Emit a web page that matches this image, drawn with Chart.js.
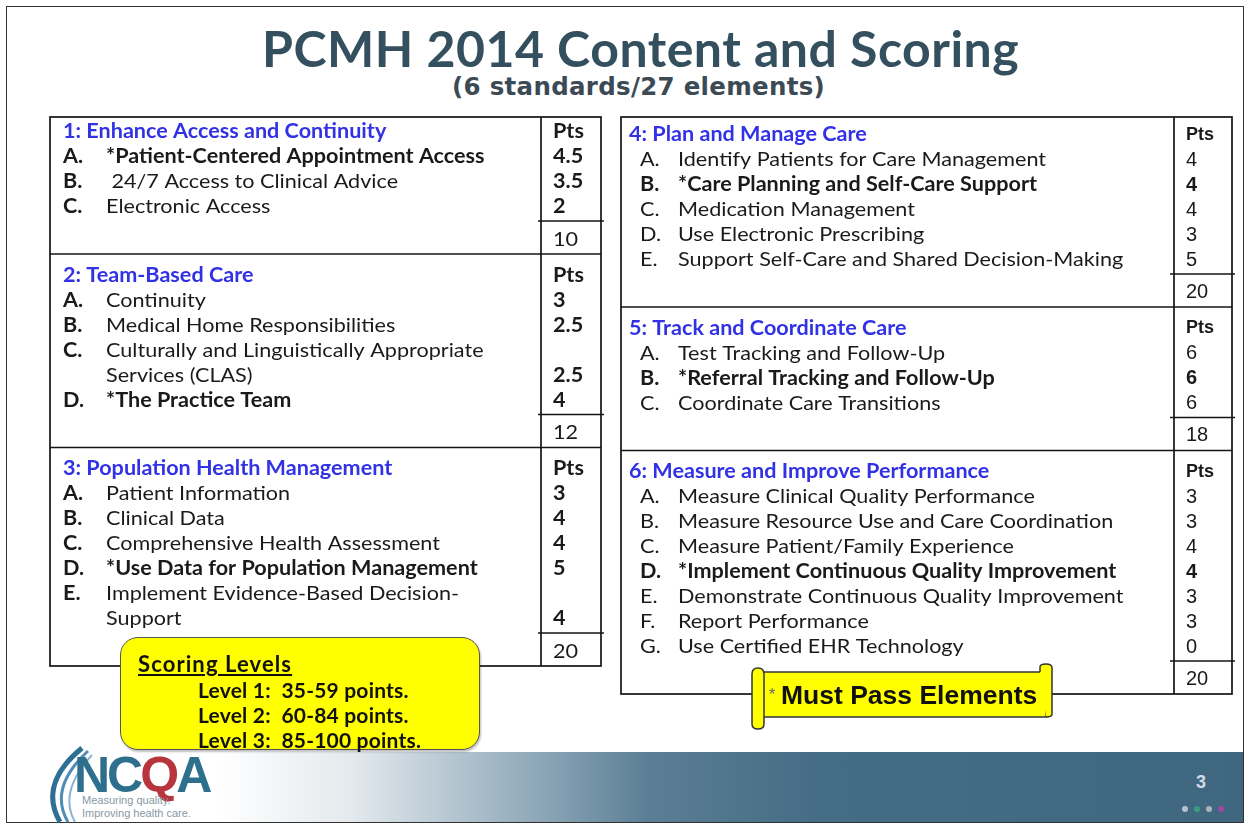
<!DOCTYPE html>
<html>
<head>
<meta charset="utf-8">
<script src="https://cdn.jsdelivr.net/npm/chart.js@4"></script>
<style>
  html, body { margin: 0; padding: 0; background: #fff; }
  #slide { position: relative; width: 1250px; height: 828px; overflow: hidden; background: #fff; }
  #frame { position: absolute; left: 6px; top: 6px; width: 1236px; height: 815px; border: 1.5px solid #333; }
  #title { position: absolute; left: 262px; top: 21px; margin: 0; font: bold 50px Lato, sans-serif; letter-spacing: 0.5px; color: #34505f; line-height: 54px; white-space: nowrap; }
  #subtitle { position: absolute; left: 452px; top: 72px; font: bold 24.5px "DejaVu Sans", sans-serif; letter-spacing: 0.3px; color: #3c4a55; line-height: 30px; white-space: nowrap; }
  canvas { position: absolute; }
  #left { left: 40px; top: 100px; }
  #right { left: 612px; top: 100px; }
  #footer { position: absolute; left: 7px; top: 752px; width: 1236px; height: 70px;
    background: linear-gradient(90deg, #fff 0%, #fff 17%, #e3e9ed 28%, #9fb5c3 40%, #5a7e95 52%, #446c84 66%, #3f6780 100%); }
  #pageNo { position: absolute; left: 1196px; top: 772px; font: bold 18px "Liberation Sans", sans-serif; color: #d3dce3; }
  #dots { position: absolute; left: 1180px; top: 804px; }
  #logo { position: absolute; left: 38px; top: 742px; }
  #scoring { position: absolute; left: 120px; top: 637px; width: 358px; height: 111px; background: #ffff00;
    border: 1.5px solid #555; border-radius: 18px; box-shadow: 1px 2px 2px rgba(0,0,0,0.25); }
  #scoring .head { position: absolute; left: 17px; top: 12px; font: bold 22px Lato, sans-serif; letter-spacing: 1.1px; text-decoration: underline; color: #111; }
  #scoring .lvl { position: absolute; left: 77px; font: bold 21px Lato, sans-serif; letter-spacing: 0.2px; color: #111; white-space: nowrap; }
  #mustpass { position: absolute; left: 748px; top: 660px; }
</style>
</head>
<body>
<div id="slide">
  <div id="frame"></div>
  <div id="footer"></div>
  <h1 id="title"></h1>
  <div id="subtitle"></div>
  <canvas id="left" width="575" height="580"></canvas>
  <canvas id="right" width="630" height="610"></canvas>
  <svg id="logo" width="200" height="84" viewBox="0 0 200 84">
    <path d="M 22 80 Q 0 42 44 6" fill="none" stroke="#2f6f95" stroke-width="5"/>
    <path d="M 30 80 Q 10 46 50 9" fill="none" stroke="#4f8db5" stroke-width="3"/>
    <path d="M 37 80 Q 20 50 54 13" fill="none" stroke="#8ab4cf" stroke-width="2"/>
    <text x="36" y="50" font-family="Liberation Sans, sans-serif" font-size="50" font-weight="bold" fill="#2e6f8e" letter-spacing="-3">NC<tspan fill="#b8353d">Q</tspan>A</text>
    <text x="44" y="62" font-family="Liberation Sans, sans-serif" font-size="11" fill="#8898a3">Measuring quality.</text>
    <text x="44" y="75" font-family="Liberation Sans, sans-serif" font-size="11" fill="#8898a3">Improving health care.</text>
  </svg>
  <div id="pageNo">3</div>
  <svg id="dots" width="50" height="10">
    <circle cx="5" cy="5" r="3" fill="#b7c2cc"/><circle cx="17" cy="5" r="3" fill="#3d9a7c"/>
    <circle cx="29" cy="5" r="3" fill="#aab2ba"/><circle cx="41" cy="5" r="3" fill="#9a4aa0"/>
  </svg>
  <div id="scoring"></div>
  <svg id="mustpass" width="310" height="70" viewBox="0 0 310 70">
    <path d="M 12 12 L 298 12 L 298 57 L 12 57 Z" fill="#ffff00" stroke="#333" stroke-width="1.5"/>
    <path d="M 292 12 L 292 7 Q 292 4 298 4 Q 304 4 304 8 L 304 54 Q 304 57 298 57" fill="#ffff00" stroke="#333" stroke-width="1.5"/>
    <path d="M 4 14 Q 4 8 10 8 Q 16 8 16 14 L 16 64 Q 16 69 10 69 Q 4 69 4 64 Z" fill="#ffff00" stroke="#333" stroke-width="1.5"/>
    <text x="21" y="40" font-family="Liberation Sans, sans-serif" font-size="16" fill="#666">*</text>
    <text x="33" y="44" font-family="Liberation Sans, sans-serif" font-size="26.5" font-weight="bold" fill="#111">Must Pass Elements</text>
  </svg>
</div>
<script>
const titleText = 'PCMH 2014 Content and Scoring';
const subtitleText = '(6 standards/27 elements)';

const standards = [
  '1: Enhance Access and Continuity',
  '2: Team-Based Care',
  '3: Population Health Management',
  '4: Plan and Manage Care',
  '5: Track and Coordinate Care',
  '6: Measure and Improve Performance'
];
const letters = ['A.', 'B.', 'C.', 'D.', 'E.', 'F.', 'G.'];

// '*' marks a must-pass element, '\n' is where the slide wraps the line
const elements1 = ['*Patient-Centered Appointment Access', ' 24/7 Access to Clinical Advice', 'Electronic Access'];
const points1 = [4.5, 3.5, 2];
const elements2 = ['Continuity', 'Medical Home Responsibilities', 'Culturally and Linguistically Appropriate\nServices (CLAS)', '*The Practice Team'];
const points2 = [3, 2.5, 2.5, 4];
const elements3 = ['Patient Information', 'Clinical Data', 'Comprehensive Health Assessment', '*Use Data for Population Management', 'Implement Evidence-Based Decision-\nSupport'];
const points3 = [3, 4, 4, 5, 4];
const elements4 = ['Identify Patients for Care Management', '*Care Planning and Self-Care Support', 'Medication Management', 'Use Electronic Prescribing', 'Support Self-Care and Shared Decision-Making'];
const points4 = [4, 4, 4, 3, 5];
const elements5 = ['Test Tracking and Follow-Up', '*Referral Tracking and Follow-Up', 'Coordinate Care Transitions'];
const points5 = [6, 6, 6];
const elements6 = ['Measure Clinical Quality Performance', 'Measure Resource Use and Care Coordination', 'Measure Patient/Family Experience', '*Implement Continuous Quality Improvement', 'Demonstrate Continuous Quality Improvement', 'Report Performance', 'Use Certified EHR Technology'];
const points6 = [3, 3, 4, 4, 3, 3, 0];
const totals = [10, 12, 20, 20, 18, 20];

const scoringTitle = 'Scoring Levels';
const scoringLevels = ['Level 1:  35-59 points.', 'Level 2:  60-84 points.', 'Level 3:  85-100 points.'];

document.getElementById('title').textContent = titleText;
document.getElementById('subtitle').textContent = subtitleText;
const box = document.getElementById('scoring');
box.innerHTML = '<div class="head">' + scoringTitle + '</div>' +
  scoringLevels.map((t, i) => '<div class="lvl" style="top:' + (39 + i * 25) + 'px">' + t.replace(/  /g, ' &nbsp;') + '</div>').join('');

const HEADER_BLUE = '#3131e6';
const INK = '#1a1a1a';

// y is measured in text lines; this lays out one column of standards
function buildSections(list) {
  let line = 0;
  return list.map(s => {
    let cur = line;
    const rows = s.elements.map((el, i) => {
      const parts = el.split('\n');
      const first = cur + 1;
      cur += parts.length;
      return { letter: letters[i], parts, first, last: cur, pts: s.points[i], must: el.startsWith('*') };
    });
    const sec = { title: s.title, header: line, rows, sep: cur + 0.64, total: cur + 1.29, bottom: cur + 1.96, totalValue: s.total };
    line = cur + 2.74;
    return sec;
  });
}

const tablePlugin = {
  id: 'scoreTable',
  afterDatasetsDraw(chart, args, opts) {
    const { ctx } = chart;
    const X = v => chart.scales.x.getPixelForValue(v);
    const Y = v => chart.scales.y.getPixelForValue(v);
    const g = opts.grid, f = opts.fonts, secs = opts.sections;
    const seg = (x1, y1, x2, y2) => { ctx.beginPath(); ctx.moveTo(x1, y1); ctx.lineTo(x2, y2); ctx.stroke(); };
    const text = (t, x, y, font, color) => {
      ctx.save();
      ctx.font = font.f;
      ctx.fillStyle = color || INK;
      ctx.translate(x, y + g.textShift);
      ctx.scale(font.sx || 1, 1);
      ctx.fillText(t, 0, 0);
      ctx.restore();
    };
    ctx.save();
    ctx.strokeStyle = '#151515';
    ctx.lineWidth = 1.7;
    ctx.textBaseline = 'middle';
    ctx.textAlign = 'left';
    const top = secs[0].header - g.topGap, bottom = secs[secs.length - 1].bottom;
    ctx.strokeRect(X(g.left), Y(top), X(g.right) - X(g.left), Y(bottom) - Y(top));
    seg(X(g.divider), Y(top), X(g.divider), Y(bottom));
    secs.forEach((s, i) => {
      if (i < secs.length - 1) seg(X(g.left), Y(s.bottom), X(g.right), Y(s.bottom));
      seg(X(g.sepLeft), Y(s.sep), X(g.sepRight), Y(s.sep));
      text(s.title, X(g.header), Y(s.header), f.header, HEADER_BLUE);
      text('Pts', X(g.pts), Y(s.header), f.ptsHead);
      s.rows.forEach(r => {
        text(r.letter, X(g.letter), Y(r.first), r.must ? f.letterBold : f.letter);
        r.parts.forEach((p, k) => text(p, X(g.name), Y(r.first + k), r.must ? f.bold : f.body));
      });
    });
    chart.data.datasets.forEach((ds, di) => {
      chart.getDatasetMeta(di).data.forEach((pt, i) => {
        const d = ds.data[i];
        text(String(d.v), pt.x, pt.y, ds.kind === 'total' ? f.total : (d.bold ? f.ptsBold : f.pts));
      });
    });
    ctx.restore();
  }
};

function makeTable(canvasId, list, grid, fonts, headerOffset) {
  const canvas = document.getElementById(canvasId);
  const secs = buildSections(list);
  const LINE = 25;
  const yMin = -headerOffset / LINE;
  const rows = secs.flatMap(s => s.rows);
  return new Chart(canvas, {
    type: 'scatter',
    data: {
      datasets: [
        { kind: 'points', data: rows.map(r => ({ x: grid.pts, y: r.last, v: r.pts, bold: r.must })), pointRadius: 0, clip: false },
        { kind: 'total', data: secs.map(s => ({ x: grid.pts, y: s.total, v: s.totalValue })), pointRadius: 0, clip: false }
      ]
    },
    options: {
      responsive: false,
      animation: false,
      events: [],
      layout: { padding: 0 },
      scales: {
        x: { type: 'linear', display: false, min: grid.origin, max: grid.origin + canvas.width },
        y: { type: 'linear', display: false, reverse: true, min: yMin, max: yMin + canvas.height / LINE }
      },
      plugins: {
        legend: { display: false },
        tooltip: { enabled: false },
        scoreTable: { sections: secs, grid, fonts }
      }
    },
    plugins: [tablePlugin]
  });
}

const leftStandards = [
  { title: standards[0], elements: elements1, points: points1, total: totals[0] },
  { title: standards[1], elements: elements2, points: points2, total: totals[1] },
  { title: standards[2], elements: elements3, points: points3, total: totals[2] }
];
const rightStandards = [
  { title: standards[3], elements: elements4, points: points4, total: totals[3] },
  { title: standards[4], elements: elements5, points: points5, total: totals[4] },
  { title: standards[5], elements: elements6, points: points6, total: totals[5] }
];

const SX = 1.08;
const lato = (w, s) => ({ f: w + ' ' + s + 'px Lato', sx: SX });
const arial = (w, s) => ({ f: w + ' ' + s + 'px "Liberation Sans"', sx: 1 });

makeTable('left', leftStandards,
  { origin: 40, left: 50, right: 601, divider: 541, sepLeft: 538, sepRight: 604, header: 63, letter: 63, name: 106, pts: 553, topGap: 0.52, textShift: 2 },
  { header: lato('bold', 20), body: lato('normal', 20), bold: lato('bold', 20), letter: lato('bold', 20), letterBold: lato('bold', 20),
    ptsHead: lato('bold', 20), pts: lato('bold', 20), ptsBold: lato('bold', 20), total: lato('normal', 20) },
  30);

makeTable('right', rightStandards,
  { origin: 612, left: 621, right: 1232, divider: 1174, sepLeft: 1170, sepRight: 1235, header: 629, letter: 640, name: 678, pts: 1186, topGap: 0.64, textShift: 2 },
  { header: lato('bold', 20), body: lato('normal', 20), bold: lato('bold', 20), letter: lato('normal', 20), letterBold: lato('bold', 20),
    ptsHead: arial('bold', 18), pts: arial('normal', 20), ptsBold: arial('bold', 20), total: arial('normal', 20) },
  33);
</script>
</body>
</html>
